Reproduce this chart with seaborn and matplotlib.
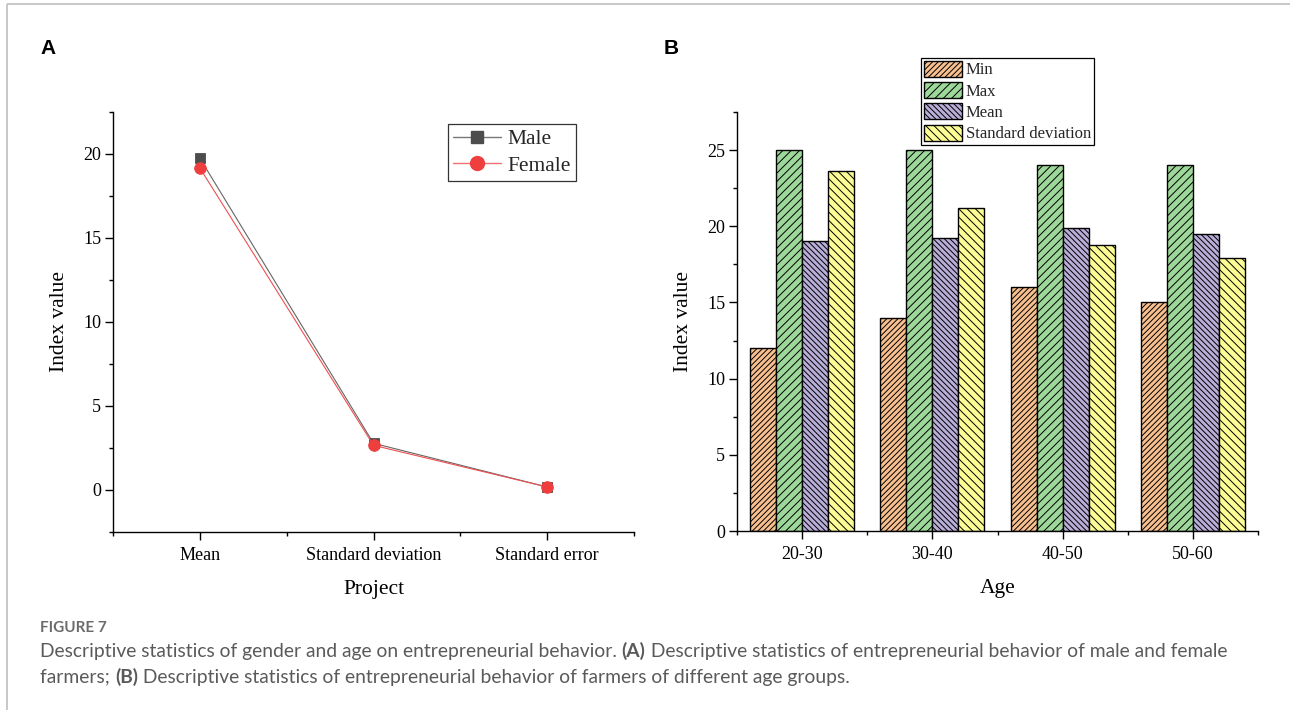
import numpy as np
import pandas as pd
import matplotlib
matplotlib.use("Agg")
import matplotlib.pyplot as plt
from matplotlib.lines import Line2D
import seaborn as sns

# ---- data -------------------------------------------------------------
projects = ["Mean", "Standard deviation", "Standard error"]
male_vals = [19.75, 2.78, 0.18]
female_vals = [19.17, 2.66, 0.18]

ages = ["20-30", "30-40", "40-50", "50-60"]
stat_names = ["Min", "Max", "Mean", "Standard deviation"]
min_vals = [12, 14, 16, 15]
max_vals = [25, 25, 24, 24]
mean_vals = [19.05, 19.25, 19.9, 19.5]
sd_vals = [23.6, 21.2, 18.8, 17.9]

# ---- style ------------------------------------------------------------
sns.set_theme(style="ticks")
plt.rcParams["font.family"] = ["Liberation Serif", "DejaVu Serif"]
plt.rcParams["hatch.linewidth"] = 0.7
plt.rcParams["axes.linewidth"] = 1.0
plt.rcParams["xtick.major.width"] = 1.0
plt.rcParams["ytick.major.width"] = 1.0
plt.rcParams["xtick.minor.width"] = 1.0
plt.rcParams["ytick.minor.width"] = 1.0

W, H = 1290, 710
fig = plt.figure(figsize=(W / 100, H / 100), dpi=100)


def fig_rect(x0, y0, x1, y1):
    return [x0 / W, 1 - y1 / H, (x1 - x0) / W, (y1 - y0) / H]


def style_axes(ax):
    sns.despine(ax=ax)
    for s in ("left", "bottom"):
        ax.spines[s].set_color("black")
    ax.tick_params(axis="both", which="major", length=5.5, direction="out",
                   color="black", labelsize=13, pad=3, labelcolor="black")
    ax.tick_params(axis="both", which="minor", length=3, direction="out",
                   color="black")


# ---- panel A: gender ---------------------------------------------------
axA = fig.add_axes(fig_rect(113, 112, 634, 532))
df_a = pd.DataFrame({
    "Project": projects * 2,
    "value": male_vals + female_vals,
    "Sex": ["Male"] * len(projects) + ["Female"] * len(projects),
})
line_cols = {"Male": "#666666", "Female": "#f05050"}
mark_cols = {"Male": "#4d4d4d", "Female": "#ef3e3e"}
sns.pointplot(data=df_a, x="Project", y="value", hue="Sex",
              hue_order=["Male", "Female"],
              palette=mark_cols, markers=["s", "o"], linestyles=["-", "-"],
              markersize=7, linewidth=0.8, errorbar=None,
              dodge=False, ax=axA)
if axA.get_legend() is not None:
    axA.get_legend().remove()
for ln in axA.lines:
    m = ln.get_marker()
    if m == "s":
        ln.set_color(line_cols["Male"])
        ln.set_markerfacecolor(mark_cols["Male"])
        ln.set_markeredgecolor(mark_cols["Male"])
        ln.set_markersize(6.6)
        ln.set_zorder(3)
    elif m == "o":
        ln.set_color(line_cols["Female"])
        ln.set_markerfacecolor(mark_cols["Female"])
        ln.set_markeredgecolor(mark_cols["Female"])
        ln.set_markersize(8.4)
        ln.set_zorder(4)
style_axes(axA)
axA.set_xlim(-0.5, 2.5)
axA.set_ylim(-2.5, 22.5)
axA.set_yticks([0, 5, 10, 15, 20])
axA.set_yticks(np.arange(-2.5, 22.6, 2.5), minor=True)
axA.set_xticks([-0.5, 0.5, 1.5, 2.5], minor=True)
axA.tick_params(axis="x", which="major", pad=5)
axA.set_xlabel("Project", fontsize=15.5, labelpad=12, color="black")
axA.set_ylabel("Index value", fontsize=15.5, labelpad=10, color="black")

handles_a = [
    Line2D([], [], color="#777777", lw=1.0, marker="s", markersize=9,
           markerfacecolor="#4d4d4d", markeredgecolor="#4d4d4d"),
    Line2D([], [], color="#f07070", lw=1.0, marker="o", markersize=10,
           markerfacecolor="#ef3e3e", markeredgecolor="#ef3e3e"),
]
legA = axA.legend(handles_a, ["Male", "Female"], loc="upper left",
                  bbox_to_anchor=(448 / W, 1 - 124 / H),
                  bbox_transform=fig.transFigure, fontsize=15.5,
                  frameon=True, fancybox=False, framealpha=1,
                  edgecolor="#333333", borderpad=0.25, labelspacing=0.3,
                  handlelength=2.2, handletextpad=0.3, borderaxespad=0)
legA.get_frame().set_linewidth(0.9)

# ---- panel B: age groups ----------------------------------------------
axB = fig.add_axes(fig_rect(737, 112, 1258, 531))
df_b = pd.DataFrame({
    "Age": ages * 4,
    "value": min_vals + max_vals + mean_vals + sd_vals,
    "Stat": [s for s in stat_names for _ in ages],
})
bar_colors = ["#f8bf8f", "#9ed79a", "#b9aed8", "#fdfd96"]
sns.barplot(data=df_b, x="Age", y="value", hue="Stat",
            hue_order=stat_names, palette=bar_colors, saturation=1,
            edgecolor="black", linewidth=1.0, width=0.8,
            errorbar=None, legend=False, ax=axB)
hatches = ["//////", "////", "\\\\\\\\\\\\", "\\\\\\\\"]
for cont, hatch in zip(axB.containers, hatches):
    for bar in cont:
        bar.set_hatch(hatch)
        bar.set_edgecolor("black")
style_axes(axB)
axB.set_xlim(-0.5, 3.5)
axB.set_ylim(0, 27.5)
axB.set_yticks([0, 5, 10, 15, 20, 25])
axB.set_yticks(np.arange(0, 27.6, 2.5), minor=True)
axB.set_xticks([-0.5, 0.5, 1.5, 2.5, 3.5], minor=True)
axB.tick_params(axis="x", which="major", pad=5)
axB.set_xlabel("Age", fontsize=15.5, labelpad=12, color="black")
axB.set_ylabel("Index value", fontsize=15.5, labelpad=10, color="black")

legB = axB.legend(axB.containers, stat_names, loc="upper left",
                  bbox_to_anchor=(921 / W, 1 - 58 / H),
                  bbox_transform=fig.transFigure, fontsize=12,
                  frameon=True, fancybox=False, framealpha=1,
                  edgecolor="black", borderpad=0.15, labelspacing=0.22,
                  handlelength=2.3, handleheight=1.1, handletextpad=0.25,
                  borderaxespad=0)
legB.get_frame().set_linewidth(0.9)

# ---- panel letters ----------------------------------------------------
for letter, x in (("A", 40), ("B", 664)):
    fig.text(x / W, 1 - 48 / H, letter, fontsize=15, fontweight="bold",
             family=["Liberation Sans", "DejaVu Sans"], va="center",
             ha="left", color="black")

# ---- outer frame ------------------------------------------------------
frame_kw = dict(color="#c4c4c4", lw=1.3, transform=fig.transFigure,
                solid_capstyle="butt")
fig.add_artist(Line2D([7 / W, 1.0], [1 - 4 / H, 1 - 4 / H], **frame_kw))
fig.add_artist(Line2D([7 / W, 7 / W], [1 - 4 / H, 0.0], **frame_kw))

# ---- caption ----------------------------------------------------------
cap_font = ["Lato", "DejaVu Sans"]
fig.text(40 / W, 1 - 628 / H, "FIGURE 7", fontsize=11, fontweight="bold",
         family=cap_font, color="#6b6b6b", va="center", ha="left")

renderer = fig.canvas.get_renderer()


def caption_line(pieces, y_px, size=13.9):
    x_px = 40.0
    for txt, bold in pieces:
        t = fig.text(x_px / W, 1 - y_px / H, txt, fontsize=size,
                     fontweight="bold" if bold else "normal",
                     family=cap_font, color="#5a5a5a",
                     va="center", ha="left")
        bb = t.get_window_extent(renderer=renderer)
        x_px += bb.width


caption_line([
    ("Descriptive statistics of gender and age on entrepreneurial behavior. ", False),
    ("(A)", True),
    (" Descriptive statistics of entrepreneurial behavior of male and female", False),
], 651)
caption_line([
    ("farmers; ", False),
    ("(B)", True),
    (" Descriptive statistics of entrepreneurial behavior of farmers of different age groups.", False),
], 677)

fig.savefig("out.png", dpi=100)
